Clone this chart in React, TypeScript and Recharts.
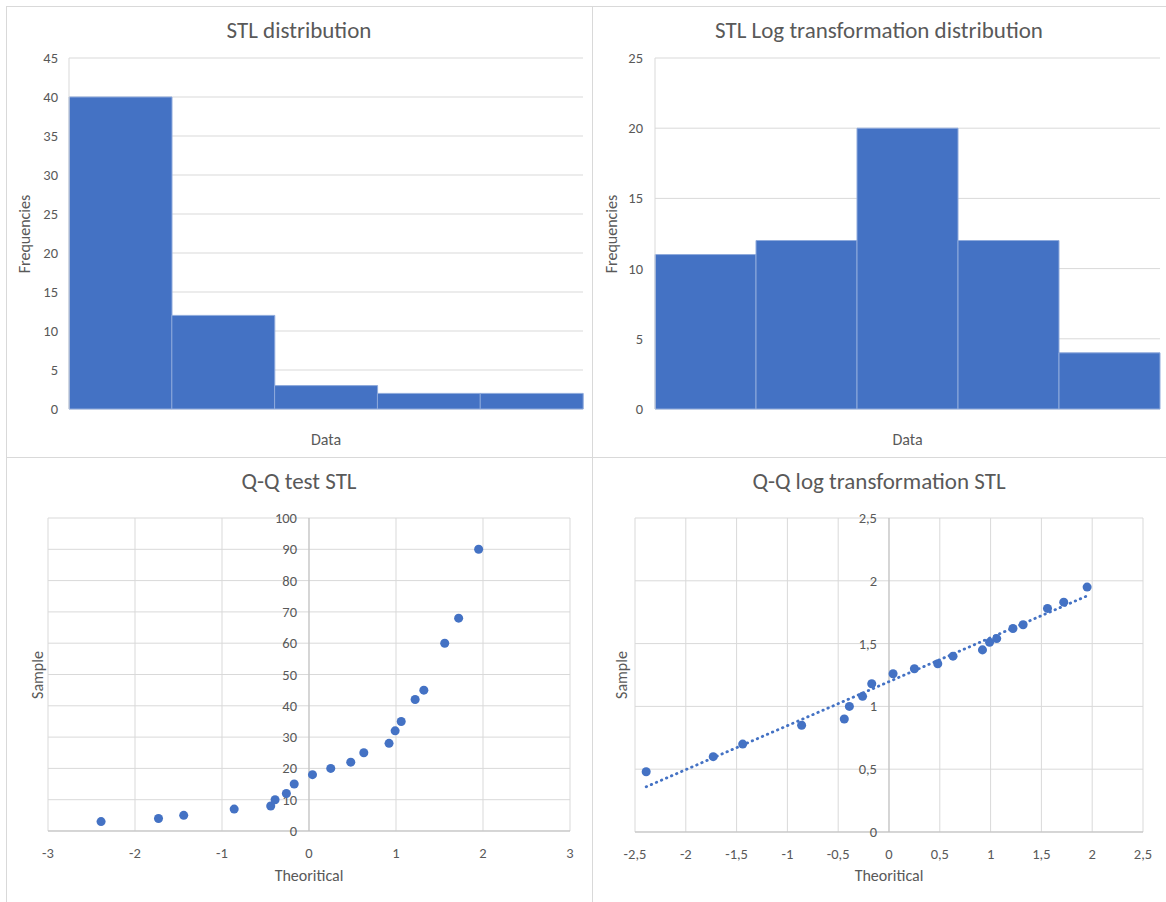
import React from 'react';
import {
  BarChart, Bar, XAxis, YAxis, CartesianGrid, ScatterChart, Scatter,
  ReferenceLine, ReferenceDot,
} from 'recharts';

// ---------- data ----------
const stlBins = ['Bin 1', 'Bin 2', 'Bin 3', 'Bin 4', 'Bin 5'];
const stlFreq = [40, 12, 3, 2, 2];
const logBins = ['Bin 1', 'Bin 2', 'Bin 3', 'Bin 4', 'Bin 5'];
const logFreq = [11, 12, 20, 12, 4];
const stlFreqTicks = [0, 5, 10, 15, 20, 25, 30, 35, 40, 45];
const logFreqTicks = [0, 5, 10, 15, 20, 25];

const theoretical = [-2.39, -1.73, -1.44, -0.86, -0.44, -0.39, -0.26, -0.17, 0.04, 0.25,
  0.48, 0.63, 0.92, 0.99, 1.06, 1.22, 1.32, 1.56, 1.72, 1.95];
const stlSample = [3, 4, 5, 7, 8, 10, 12, 15, 18, 20, 22, 25, 28, 32, 35, 42, 45, 60, 68, 90];
const logSample = [0.48, 0.6, 0.7, 0.85, 0.9, 1.0, 1.08, 1.18, 1.26, 1.3, 1.34, 1.4, 1.45,
  1.51, 1.54, 1.62, 1.65, 1.78, 1.83, 1.95];
const trendX = [-2.39, 1.95];
const trendY = [0.36, 1.88];

const qq1XTicks = [-3, -2, -1, 0, 1, 2, 3];
const qq1YTicks = [0, 10, 20, 30, 40, 50, 60, 70, 80, 90, 100];
const qq2XTicks = [-2.5, -2, -1.5, -1, -0.5, 0, 0.5, 1, 1.5, 2, 2.5];
const qq2YTicks = [0, 0.5, 1, 1.5, 2, 2.5];

// ---------- style ----------
const FONT = "Calibri, Carlito, Lato, 'Open Sans', sans-serif";
const BLUE = '#4472C4';
const GRID = '#d9d9d9';
const AXIS = '#bfbfbf';
const TEXT = '#595959';
const TICK_FS = 14.5;
const comma = (v: number) => String(v).replace('.', ',');

const YTick = (props: any) => (
  <text x={props.x} y={props.y} textAnchor="end" dominantBaseline="central"
    fontSize={TICK_FS} fill={TEXT} fontFamily={FONT}>{comma(props.payload.value)}</text>
);
const XTick = (props: any) => (
  <text x={props.x} y={props.y} textAnchor="middle" dy="0.71em"
    fontSize={TICK_FS} fill={TEXT} fontFamily={FONT}>{comma(props.payload.value)}</text>
);
const DotLabel = (props: any) => {
  const vb = props.viewBox || {};
  return (
    <text x={vb.x - 12} y={vb.y + (vb.height || 0) / 2} textAnchor="end" dominantBaseline="central"
      fontSize={TICK_FS} fill={TEXT} fontFamily={FONT}>{props.value}</text>
  );
};

function Title({ text, width }: { text: string; width: number }) {
  return (
    <div style={{ position: 'absolute', left: 0, top: 11, width, textAlign: 'center', fontSize: 23, lineHeight: '26px', color: TEXT, whiteSpace: 'nowrap' }}>
      {text}
    </div>
  );
}

function XTitle({ text, left, width, top }: { text: string; left: number; width: number; top: number }) {
  return (
    <div style={{ position: 'absolute', left, top: top - 10, width, textAlign: 'center', fontSize: 16, lineHeight: '20px', color: TEXT, whiteSpace: 'nowrap' }}>
      {text}
    </div>
  );
}

function YTitle({ text, x, y }: { text: string; x: number; y: number }) {
  return (
    <div style={{ position: 'absolute', left: x, top: y, transform: 'translate(-50%, -50%) rotate(-90deg)', fontSize: 16, lineHeight: '20px', color: TEXT, whiteSpace: 'nowrap' }}>
      {text}
    </div>
  );
}

type HistProps = {
  left: number; top: number; width: number; height: number; title: string;
  bins: string[]; freq: number[]; ticks: number[];
  margin: { top: number; right: number; bottom: number };
  yAxisWidth: number; tickMargin: number; yTitleX: number; xTitleY: number;
};

function Histogram(p: HistProps) {
  const data = p.bins.map((b, i) => ({ bin: b, freq: p.freq[i] }));
  const plotW = p.width - p.yAxisWidth - p.margin.right;
  const plotMid = p.margin.top + (p.height - p.margin.top - p.margin.bottom) / 2;
  return (
    <div style={{ position: 'absolute', left: p.left, top: p.top, width: p.width, height: p.height }}>
      <BarChart width={p.width} height={p.height} data={data} barCategoryGap={0}
        margin={{ top: p.margin.top, right: p.margin.right, left: 0, bottom: p.margin.bottom }}>
        <CartesianGrid vertical={false} stroke={GRID} />
        <XAxis dataKey="bin" hide />
        <YAxis type="number" domain={[p.ticks[0], p.ticks[p.ticks.length - 1]]} ticks={p.ticks}
          width={p.yAxisWidth} axisLine={{ stroke: GRID }} tickLine={false} tickMargin={p.tickMargin}
          tick={YTick} interval={0} />
        <Bar dataKey="freq" fill={BLUE} stroke="#8faadc" strokeWidth={1} isAnimationActive={false} />
      </BarChart>
      <Title text={p.title} width={p.width} />
      <XTitle text="Data" left={p.yAxisWidth} width={plotW} top={p.xTitleY} />
      <YTitle text="Frequencies" x={p.yTitleX} y={plotMid} />
    </div>
  );
}

type QQProps = {
  left: number; top: number; width: number; height: number; title: string;
  xs: number[]; ys: number[]; xTicks: number[]; yTicks: number[];
  margin: { top: number; right: number; left: number; bottom: number };
  trend?: { x: number[]; y: number[] };
  yTitleX: number; xTitleY: number;
};

function QQ(p: QQProps) {
  const pts = p.xs.map((x, i) => ({ x, y: p.ys[i] }));
  const trendData = p.trend ? p.trend.x.map((x, i) => ({ x, y: p.trend!.y[i] })) : [];
  const plotW = p.width - p.margin.left - p.margin.right;
  const plotMid = p.margin.top + (p.height - p.margin.top - p.margin.bottom) / 2;
  const xDom: [number, number] = [p.xTicks[0], p.xTicks[p.xTicks.length - 1]];
  const yDom: [number, number] = [p.yTicks[0], p.yTicks[p.yTicks.length - 1]];
  return (
    <div style={{ position: 'absolute', left: p.left, top: p.top, width: p.width, height: p.height }}>
      <ScatterChart width={p.width} height={p.height}
        margin={{ top: p.margin.top, right: p.margin.right, left: p.margin.left, bottom: 0 }}>
        <CartesianGrid stroke={GRID} />
        <XAxis type="number" dataKey="x" domain={xDom} ticks={p.xTicks} interval={0}
          height={p.margin.bottom} axisLine={{ stroke: AXIS }} tickLine={false} tickMargin={11}
          tick={XTick} allowDataOverflow />
        <YAxis type="number" dataKey="y" domain={yDom} ticks={p.yTicks} interval={0} hide allowDataOverflow />
        <ReferenceLine x={0} stroke={AXIS} />
        {p.yTicks.map((v) => (
          <ReferenceDot key={v} x={0} y={v} r={0.01} fill="none" stroke="none" ifOverflow="visible"
            label={<DotLabel value={comma(v)} />} />
        ))}
        <Scatter data={pts} fill={BLUE} isAnimationActive={false} />
        {p.trend && (
          <Scatter data={trendData} isAnimationActive={false} shape={() => <g />}
            line={{ stroke: BLUE, strokeWidth: 2.8, strokeDasharray: '0.5 5', strokeLinecap: 'round' }} />
        )}
      </ScatterChart>
      <Title text={p.title} width={p.width} />
      <XTitle text="Theoritical" left={p.margin.left} width={plotW} top={p.xTitleY} />
      <YTitle text="Sample" x={p.yTitleX} y={plotMid} />
    </div>
  );
}

export default function App() {
  return (
    <div style={{ position: 'absolute', left: 0, top: 0, width: 1166, height: 902, background: '#fff', overflow: 'hidden', fontFamily: FONT }}>
      {/* panel borders */}
      <div style={{ position: 'absolute', left: 6, top: 6, width: 1, height: 896, background: GRID }} />
      <div style={{ position: 'absolute', left: 6, top: 6, width: 1160, height: 1, background: GRID }} />
      <div style={{ position: 'absolute', left: 592, top: 6, width: 1, height: 896, background: GRID }} />
      <div style={{ position: 'absolute', left: 6, top: 457, width: 1160, height: 1, background: GRID }} />

      <Histogram left={6} top={6} width={586} height={451} title="STL distribution"
        bins={stlBins} freq={stlFreq} ticks={stlFreqTicks}
        margin={{ top: 52, right: 9, bottom: 48 }} yAxisWidth={63} tickMargin={5}
        yTitleX={19} xTitleY={434} />
      <Histogram left={592} top={6} width={574} height={451} title="STL Log transformation distribution"
        bins={logBins} freq={logFreq} ticks={logFreqTicks}
        margin={{ top: 52, right: 6, bottom: 48 }} yAxisWidth={63} tickMargin={6}
        yTitleX={20} xTitleY={434} />
      <QQ left={6} top={457} width={586} height={445} title="Q-Q test STL"
        xs={theoretical} ys={stlSample} xTicks={qq1XTicks} yTicks={qq1YTicks}
        margin={{ top: 61, right: 22, left: 42, bottom: 71 }} yTitleX={32} xTitleY={419} />
      <QQ left={592} top={457} width={574} height={445} title="Q-Q log transformation STL"
        xs={theoretical} ys={logSample} xTicks={qq2XTicks} yTicks={qq2YTicks}
        margin={{ top: 61, right: 23, left: 43, bottom: 70 }} yTitleX={30} xTitleY={419}
        trend={{ x: trendX, y: trendY }} />
    </div>
  );
}
